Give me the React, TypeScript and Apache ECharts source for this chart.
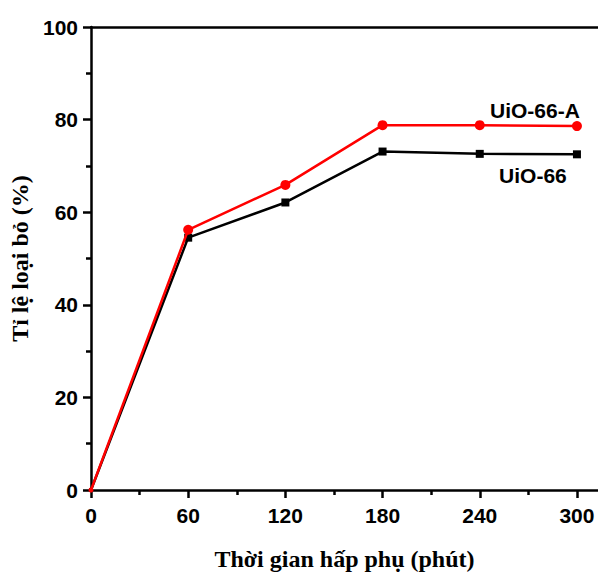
import React, { useEffect, useRef } from "react";
import * as echarts from "echarts";

const timeMinutes = [0, 60, 120, 180, 240, 300];
const uio66A = [0, 56.2, 65.9, 78.8, 78.8, 78.6];
const uio66 = [0, 54.5, 62.1, 73.1, 72.6, 72.5];
const majorXTicks = [0, 60, 120, 180, 240, 300];
const minorXTicks = [30, 90, 150, 210, 270];
const seriesNames = ["UiO-66-A", "UiO-66"];
const xTitle = "Thời gian hấp phụ (phút)";
const yTitle = "Tỉ lệ loại bỏ (%)";

export default function App() {
  const ref = useRef<HTMLDivElement>(null);
  useEffect(() => {
    document.body.style.margin = "0";
    const chart = echarts.init(ref.current!, null, { renderer: "svg" });
    const axisLineStyle = { color: "#000", width: 2.5 };
    const labelFont = {
      fontFamily: "Liberation Sans, Arial, sans-serif",
      fontWeight: "bold" as const,
      fontSize: 21,
      color: "#000",
    };
    const titleFont = {
      fontFamily: "Liberation Serif, Times New Roman, serif",
      fontWeight: "bold" as const,
      fontSize: 24,
      color: "#000",
    };
    const pairs = (ys: number[], origin: number) =>
      timeMinutes.map((t, i) =>
        i === 0 ? { value: [t, ys[i]], symbolSize: origin } : [t, ys[i]]
      );
    chart.setOption({
      animation: false,
      backgroundColor: "#fff",
      grid: { left: 91, right: 0, top: 27, bottom: 86 },
      xAxis: [
        {
          type: "value",
          min: 0,
          max: 313,
          position: "bottom",
          axisLine: { lineStyle: axisLineStyle },
          axisTick: { customValues: majorXTicks, length: 8, lineStyle: axisLineStyle },
          axisLabel: { ...labelFont, customValues: majorXTicks, margin: 15 },
          splitLine: { show: false },
          name: xTitle,
          nameLocation: "middle",
          nameGap: 57,
          nameTextStyle: titleFont,
        },
        {
          type: "value",
          min: 0,
          max: 313,
          position: "bottom",
          axisLine: { show: false },
          axisTick: { customValues: minorXTicks, length: 5, lineStyle: axisLineStyle },
          axisLabel: { show: false },
          splitLine: { show: false },
        },
        {
          type: "value",
          min: 0,
          max: 313,
          position: "top",
          axisLine: { lineStyle: axisLineStyle },
          axisTick: { show: false },
          axisLabel: { show: false },
          splitLine: { show: false },
        },
      ],
      yAxis: {
        type: "value",
        min: 0,
        max: 100,
        interval: 20,
        axisLine: { show: true, lineStyle: axisLineStyle },
        axisTick: { show: true, length: 8, lineStyle: axisLineStyle },
        minorTick: { show: true, splitNumber: 2, length: 5, lineStyle: axisLineStyle },
        axisLabel: { ...labelFont, margin: 13 },
        splitLine: { show: false },
        name: yTitle,
        nameLocation: "middle",
        nameGap: 55,
        nameTextStyle: titleFont,
      },
      series: [
        {
          name: seriesNames[1],
          type: "line",
          data: pairs(uio66, 4),
          symbol: "rect",
          symbolSize: 8,
          lineStyle: { color: "#000", width: 2.5 },
          itemStyle: { color: "#000" },
          z: 3,
          markPoint: {
            symbol: "circle",
            symbolSize: 0,
            data: [{ coord: [timeMinutes[5], uio66[5]] }],
            label: {
              show: true,
              formatter: seriesNames[1],
              ...labelFont,
              fontSize: 21,
              offset: [-44, 21],
            },
          },
        },
        {
          name: seriesNames[0],
          type: "line",
          data: pairs(uio66A, 5),
          symbol: "circle",
          symbolSize: 10,
          lineStyle: { color: "#ff0000", width: 2.5 },
          itemStyle: { color: "#ff0000" },
          z: 4,
          markPoint: {
            symbol: "circle",
            symbolSize: 0,
            data: [{ coord: [timeMinutes[5], uio66A[5]] }],
            label: {
              show: true,
              formatter: seriesNames[0],
              ...labelFont,
              fontSize: 21,
              offset: [-42, -16],
            },
          },
        },
      ],
    });
    return () => chart.dispose();
  }, []);
  return <div ref={ref} style={{ width: 598, height: 576 }} />;
}
